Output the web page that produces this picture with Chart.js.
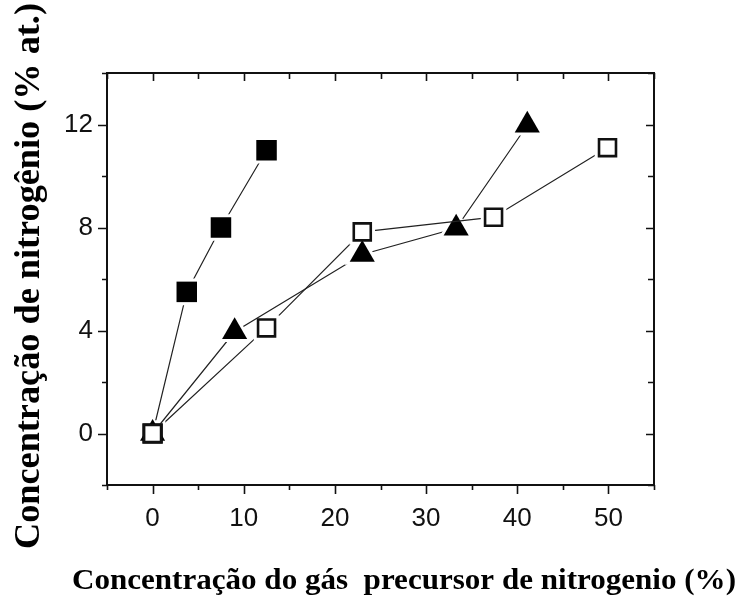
<!DOCTYPE html>
<html>
<head>
<meta charset="utf-8">
<script src="https://cdn.jsdelivr.net/npm/chart.js@4"></script>
<style>
  html, body { margin: 0; padding: 0; background: #fff; }
  #wrap { width: 743px; height: 600px; }
</style>
</head>
<body>
<div id="wrap"><canvas id="c" width="743" height="600"></canvas></div>
<script>
// ---- Data ----
const filledSquareX = [0, 3.75, 7.5, 12.5];
const filledSquareY = [0, 5.5, 8.0, 11.0];

const triangleX = [0, 9.0, 23.0, 33.3, 41.1];
const triangleY = [0, 3.95, 6.95, 7.97, 11.97];

const openSquareX = [0, 12.5, 23.0, 37.4, 49.9];
const openSquareY = [0, 4.1, 7.83, 8.4, 11.1];

const xTickLabels = [0, 10, 20, 30, 40, 50];
const yTickLabels = [0, 4, 8, 12];

const xTitle = 'Concentração do gás  precursor de nitrogenio (%)';
const yTitle = 'Concentração de nitrogênio (% at.)';

const toPts = (xs, ys) => xs.map((x, i) => ({ x: x, y: ys[i] }));

// frame + ticks on all four sides, drawn through the chart scales
const framePlugin = {
  id: 'frame',
  afterDatasetsDraw(chart) {
    const { ctx, chartArea: a, scales } = chart;
    const xs = scales.x, ys = scales.y;
    ctx.save();
    ctx.strokeStyle = '#111';
    ctx.lineWidth = 2;
    ctx.strokeRect(a.left, a.top, a.right - a.left, a.bottom - a.top);
    ctx.lineWidth = 1.6;
    ctx.beginPath();
    for (let v = xs.min; v <= xs.max + 1e-9; v += 5) {
      const px = Math.round(xs.getPixelForValue(v)) + 0.5;
      const major = xTickLabels.includes(v);
      const lo = major ? 9 : 5;
      const li = major ? 8 : 6;
      ctx.moveTo(px, a.bottom); ctx.lineTo(px, a.bottom + lo);
      ctx.moveTo(px, a.top); ctx.lineTo(px, a.top + li);
    }
    for (let v = ys.min; v <= ys.max + 1e-9; v += 2) {
      const py = Math.round(ys.getPixelForValue(v)) + 0.5;
      const major = yTickLabels.includes(v);
      const lo = major ? 9 : 5;
      const li = major ? 8 : 6;
      ctx.moveTo(a.left, py); ctx.lineTo(a.left - lo, py);
      ctx.moveTo(a.right, py); ctx.lineTo(a.right - li, py);
    }
    ctx.stroke();
    ctx.restore();
  }
};

// connecting lines stop short of their own markers (as in the reference):
// the dataset is drawn with its marker neighbourhoods clipped out,
// then the library's point elements are drawn again unclipped.
const gapPlugin = {
  id: 'gap',
  beforeDatasetDraw(chart, args) {
    const ctx = chart.ctx;
    const gap = 3;
    ctx.save();
    ctx.beginPath();
    ctx.rect(0, 0, chart.width, chart.height);
    args.meta.data.forEach(el => {
      const o = el.options;
      const x = el.x, y = el.y;
      if (o.pointStyle === 'triangle') {
        const R = o.radius + 2 * gap;
        let rad = 0;
        for (let k = 0; k < 3; k++) {
          const px = x + Math.sin(rad) * R, py = y - Math.cos(rad) * R;
          if (k === 0) ctx.moveTo(px, py); else ctx.lineTo(px, py);
          rad += 2 * Math.PI / 3;
        }
        ctx.closePath();
      } else {
        const h = o.radius * Math.SQRT1_2 + (o.borderWidth || 0) / 2 + gap;
        ctx.rect(x - h, y - h, 2 * h, 2 * h);
      }
    });
    ctx.clip('evenodd');
  },
  afterDatasetDraw(chart, args) {
    const ctx = chart.ctx;
    ctx.restore();
    args.meta.data.forEach(el => el.draw(ctx, chart.chartArea));
  }
};

// axis titles (real text), sized to the reference's extents
const titlePlugin = {
  id: 'titles',
  afterDraw(chart) {
    const ctx = chart.ctx;
    ctx.save();
    ctx.fillStyle = '#000';
    ctx.textAlign = 'center';
    ctx.textBaseline = 'alphabetic';
    // x title
    ctx.font = 'bold 29px "Liberation Serif"';
    let w = ctx.measureText(xTitle).width;
    ctx.save();
    ctx.translate(404, 589);
    ctx.scale(664 / w, 1);
    ctx.fillText(xTitle, 0, 0);
    ctx.restore();
    // y title
    ctx.font = 'bold 35px "Liberation Serif"';
    w = ctx.measureText(yTitle).width;
    ctx.save();
    ctx.translate(39, 276);
    ctx.rotate(-Math.PI / 2);
    ctx.scale(546 / w, 1);
    ctx.fillText(yTitle, 0, 0);
    ctx.restore();
    ctx.restore();
  }
};

const lineColor = '#222';

new Chart(document.getElementById('c'), {
  type: 'scatter',
  data: {
    datasets: [
      {
        label: 'open squares',
        data: toPts(openSquareX, openSquareY),
        showLine: true,
        borderColor: lineColor,
        borderWidth: 1.2,
        pointStyle: 'rect',
        pointRadius: 12,
        pointHoverRadius: 12,
        pointBackgroundColor: '#fff',
        pointBorderColor: '#111',
        pointBorderWidth: 2.6,
        order: 0
      },
      {
        label: 'triangles',
        data: toPts(triangleX, triangleY),
        showLine: true,
        borderColor: lineColor,
        borderWidth: 1.2,
        pointStyle: 'triangle',
        pointRadius: 14.5,
        pointHoverRadius: 14.5,
        pointBackgroundColor: '#000',
        pointBorderColor: '#000',
        pointBorderWidth: 0,
        order: 1
      },
      {
        label: 'filled squares',
        data: toPts(filledSquareX, filledSquareY),
        showLine: true,
        borderColor: lineColor,
        borderWidth: 1.2,
        pointStyle: 'rect',
        pointRadius: 14.5,
        pointHoverRadius: 14.5,
        pointBackgroundColor: '#000',
        pointBorderColor: '#000',
        pointBorderWidth: 0,
        order: 2
      }
    ]
  },
  options: {
    responsive: false,
    animation: false,
    events: [],
    layout: { padding: { top: 73, right: 89, bottom: 0, left: 0 } },
    plugins: { legend: { display: false }, tooltip: { enabled: false } },
    scales: {
      x: {
        type: 'linear',
        min: -5, max: 55,
        grid: { display: false },
        border: { display: false },
        afterFit(scale) { scale.height = 115; },
        afterBuildTicks(scale) {
          scale.ticks = xTickLabels.map(v => ({ value: v }));
        },
        ticks: {
          autoSkip: false,
          maxRotation: 0,
          padding: 10,
          color: '#111',
          font: { family: 'Liberation Sans', size: 26 },
          callback: (v) => String(v)
        },
        title: { display: false }
      },
      y: {
        type: 'linear',
        min: -2, max: 14,
        grid: { display: false },
        border: { display: false },
        afterFit(scale) { scale.width = 107; },
        afterBuildTicks(scale) {
          scale.ticks = yTickLabels.map(v => ({ value: v }));
        },
        ticks: {
          autoSkip: false,
          padding: 6,
          color: '#111',
          font: { family: 'Liberation Sans', size: 26 },
          callback: (v) => String(v)
        },
        title: { display: false }
      }
    }
  },
  plugins: [framePlugin, gapPlugin, titlePlugin]
});
</script>
</body>
</html>
